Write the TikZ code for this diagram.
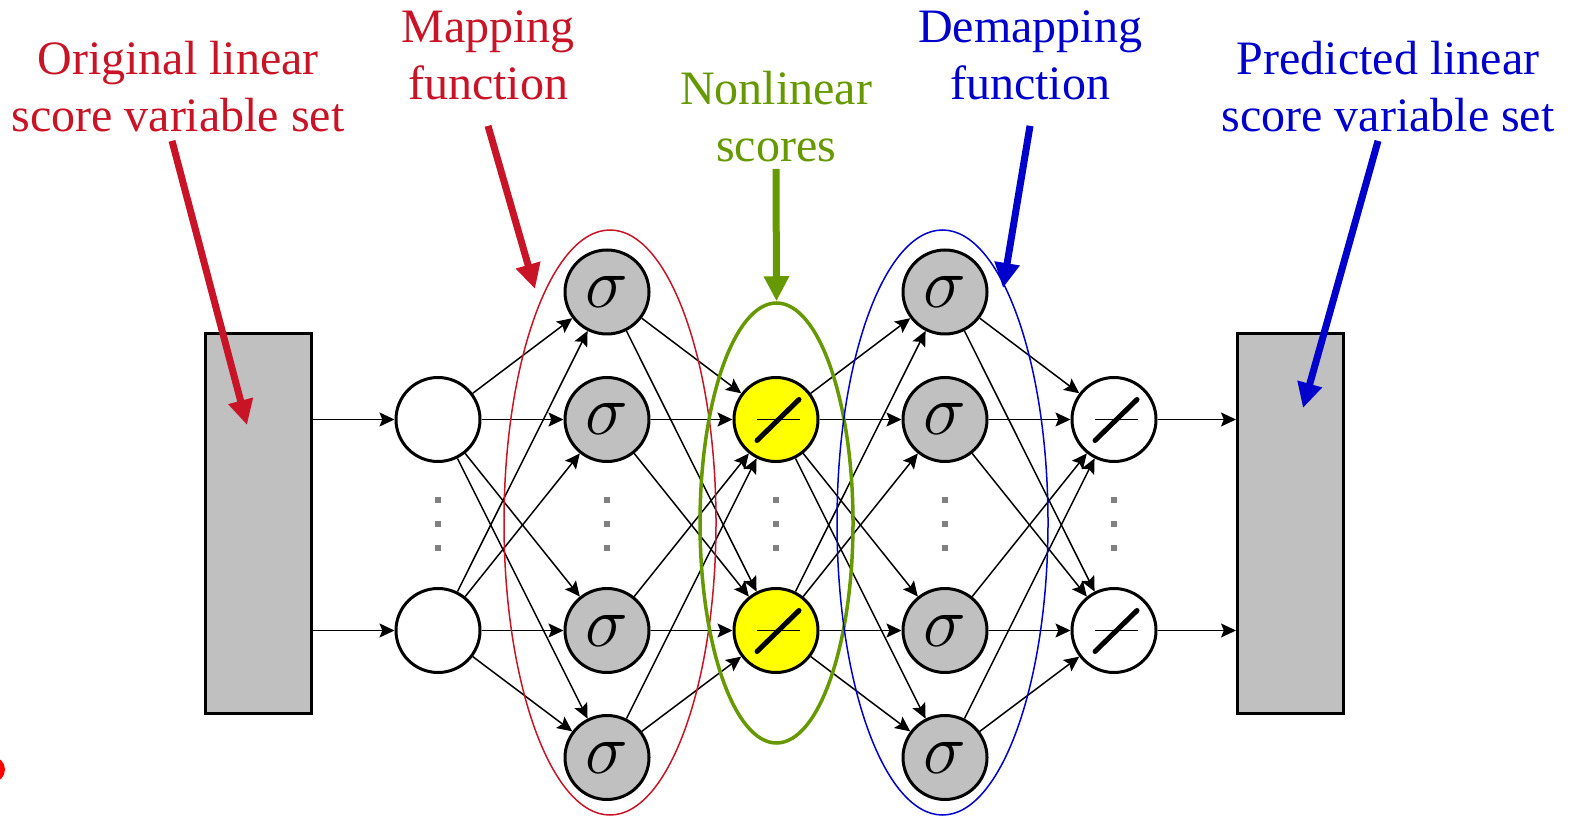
\documentclass[tikz,border=0pt]{standalone}
\usepackage{fix-cm}
\usepackage{fontspec}
\setmainfont{Liberation Serif}
\usetikzlibrary{arrows.meta,shapes.geometric}
\definecolor{lblred}{RGB}{200,20,38}
\definecolor{lblblue}{RGB}{0,0,204}
\definecolor{lblgreen}{RGB}{102,153,0}
\definecolor{boxgrey}{RGB}{192,192,192}
\definecolor{dotgrey}{RGB}{128,128,128}
\definecolor{linyellow}{RGB}{255,255,0}
\tikzset{
  unit/.style={circle,draw,line width=1.5pt,minimum size=42pt,inner sep=0pt},
  sig/.style={unit,fill=boxgrey,font=\fontsize{36}{36}\selectfont},
  lin/.style={unit,path picture={
      \draw[line width=0.7pt] ([xshift=-9.5pt]path picture bounding box.center) -- ++(21.5pt,0);
      \draw[line width=2.5pt,line cap=round] ([shift={(-9.5pt,-10.5pt)}]path picture bounding box.center) -- ++(21pt,20.5pt);}},
  sbox/.style={draw,line width=1.5pt,fill=boxgrey,minimum width=53pt,minimum height=189.5pt,inner sep=0pt},
  ring/.style={ellipse,inner sep=0pt,line width=0.75pt},
  lbl/.style={align=center,inner sep=0pt,anchor=base,font=\fontsize{24}{28.5}\selectfont},
  flow/.style={-{Stealth[length=7.5pt,width=7pt,inset=1.4pt]},line width=0.75pt},
  point/.style={-{Triangle[length=12.5pt,width=12pt]},line width=3.5pt}
}
\begin{document}
\begin{tikzpicture}[x=0.5pt,y=-0.5pt]
  \useasboundingbox (0,0) rectangle (1572,817);
  % score variable sets
  \node[sbox] (lrect) at (258,523.5) {};
  \node[sbox] (rrect) at (1290.5,523.5) {};
  % layers
  \node[unit] (in1) at (438,419.5) {};
  \node[unit] (in2) at (438,630.5) {};
  \node[sig] (m1) at (607,292) {$\sigma$};
  \node[sig] (m2) at (607,419.5) {$\sigma$};
  \node[sig] (m3) at (607,630.5) {$\sigma$};
  \node[sig] (m4) at (607,757.5) {$\sigma$};
  \node[lin,fill=linyellow] (n1) at (776,419.5) {};
  \node[lin,fill=linyellow] (n2) at (776,630.5) {};
  \node[sig] (d1) at (945,292) {$\sigma$};
  \node[sig] (d2) at (945,419.5) {$\sigma$};
  \node[sig] (d3) at (945,630.5) {$\sigma$};
  \node[sig] (d4) at (945,757.5) {$\sigma$};
  \node[lin,fill=white] (o1) at (1114,419.5) {};
  \node[lin,fill=white] (o2) at (1114,630.5) {};
  \foreach \x in {438,607,776,945,1114}
    \foreach \y in {500,524,548}
      \fill[dotgrey] (\x-3,\y-3) rectangle (\x+3,\y+3);
  % weights
  \draw[flow] (lrect.east |- in1)--(in1);\draw[flow] (lrect.east |- in2)--(in2);
  \draw[flow] (in1)--(m1);\draw[flow] (in1)--(m2);\draw[flow] (in1)--(m3);\draw[flow] (in1)--(m4);
  \draw[flow] (in2)--(m1);\draw[flow] (in2)--(m2);\draw[flow] (in2)--(m3);\draw[flow] (in2)--(m4);
  \draw[flow] (m1)--(n1);\draw[flow] (m2)--(n1);\draw[flow] (m3)--(n1);\draw[flow] (m4)--(n1);
  \draw[flow] (m1)--(n2);\draw[flow] (m2)--(n2);\draw[flow] (m3)--(n2);\draw[flow] (m4)--(n2);
  \draw[flow] (n1)--(d1);\draw[flow] (n1)--(d2);\draw[flow] (n1)--(d3);\draw[flow] (n1)--(d4);
  \draw[flow] (n2)--(d1);\draw[flow] (n2)--(d2);\draw[flow] (n2)--(d3);\draw[flow] (n2)--(d4);
  \draw[flow] (d1)--(o1);\draw[flow] (d2)--(o1);\draw[flow] (d3)--(o1);\draw[flow] (d4)--(o1);
  \draw[flow] (d1)--(o2);\draw[flow] (d2)--(o2);\draw[flow] (d3)--(o2);\draw[flow] (d4)--(o2);
  \draw[flow] (o1)--(rrect.west |- o1);\draw[flow] (o2)--(rrect.west |- o2);
  % groupings
  \node[ring,draw=lblred,minimum width=106pt,minimum height=292.5pt] (mapring) at (610,522.5) {};
  \node[ring,draw=lblgreen,line width=1.75pt,minimum width=76.5pt,minimum height=220pt] (nlring) at (776.5,523) {};
  \node[ring,draw=lblblue,minimum width=105.5pt,minimum height=292.5pt] (demapring) at (942.5,522.5) {};
  % labels
  \node[lbl,text=lblred] (origlbl) at (178,132) {Original linear\\score variable set};
  \node[lbl,text=lblred] (maplbl) at (488,100) {Mapping\\function};
  \node[lbl,text=lblgreen] (nllbl) at (776,162) {Nonlinear\\scores};
  \node[lbl,text=lblblue] (demaplbl) at (1030,100) {Demapping\\function};
  \node[lbl,text=lblblue] (predlbl) at (1388,132) {Predicted linear\\score variable set};
  \coordinate (origtip) at (247,425);
  \coordinate (maptip) at (535,289);
  \coordinate (demaptip) at (1003,288);
  \coordinate (predtip) at (1303,408);
  \draw[point,lblred] ([shift={(-3pt,-4pt)}]origlbl.south) -- (origtip);
  \draw[point,lblred] ([yshift=-12.5pt]maplbl.south) -- (maptip);
  \draw[point,lblgreen] ([yshift=-3pt]nllbl.south) -- (nlring.north);
  \draw[point,lblblue] ([yshift=-12.5pt]demaplbl.south) -- (demaptip);
  \draw[point,lblblue] ([shift={(-5pt,-4pt)}]predlbl.south) -- (predtip);
  \fill[red] (-8,769.5) circle (6.5pt);
\end{tikzpicture}
\end{document}
